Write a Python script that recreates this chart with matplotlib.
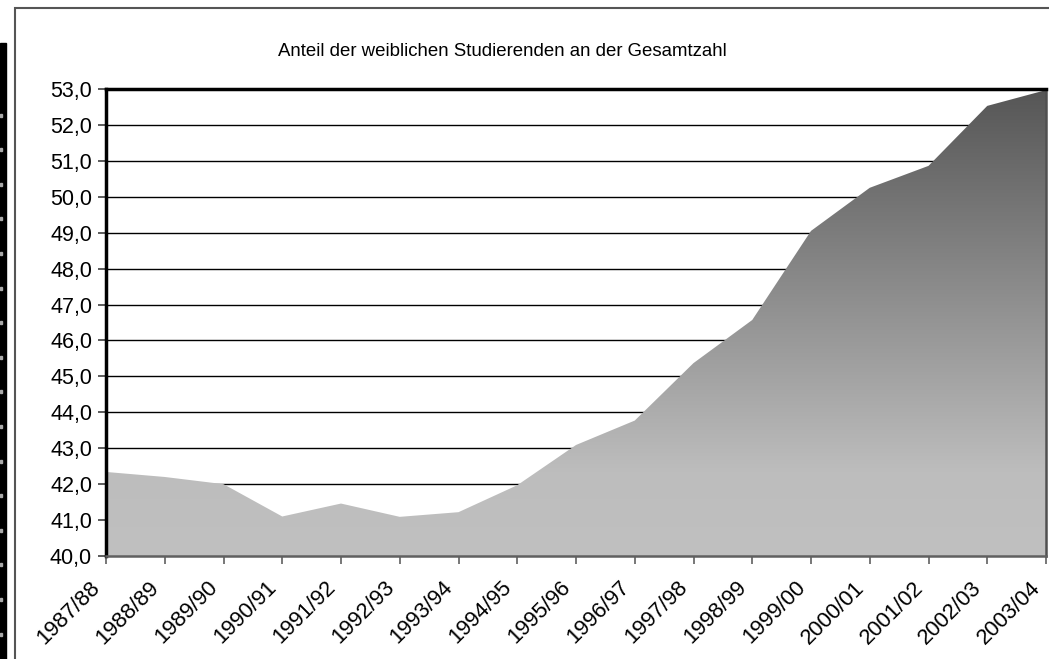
import numpy as np
import matplotlib
matplotlib.use("Agg")
import matplotlib.pyplot as plt
import matplotlib.transforms as mtransforms
from matplotlib.patches import Rectangle
from matplotlib.colors import LinearSegmentedColormap

plt.rcParams["font.family"] = ["Liberation Sans", "DejaVu Sans"]

# data
semesters = ["1987/88", "1988/89", "1989/90", "1990/91", "1991/92", "1992/93",
             "1993/94", "1994/95", "1995/96", "1996/97", "1997/98", "1998/99",
             "1999/00", "2000/01", "2001/02", "2002/03", "2003/04"]
share_female = [42.34, 42.2, 42.0, 41.1, 41.46, 41.09, 41.22, 41.97, 43.09,
                43.77, 45.37, 46.57, 49.05, 50.25, 50.86, 52.53, 52.97]
y_ticks = np.arange(40, 54, 1)
title = "Anteil der weiblichen Studierenden an der Gesamtzahl"

W, H = 1049, 659
fig = plt.figure(figsize=(W / 100, H / 100), dpi=100)
ax = fig.add_axes([106 / W, 1 - 556 / H, (1046 - 106) / W, (556 - 89) / H])

x = np.arange(len(semesters))
ax.set_xlim(0, len(semesters) - 1)
ax.set_ylim(40, 53)

# horizontal grid lines
for t in y_ticks[1:-1]:
    ax.axhline(t, color="black", lw=1.0, zorder=1)

# gradient filled area
poly = ax.fill_between(x, 40, share_female, color="none", lw=0, zorder=2)
cmap = LinearSegmentedColormap.from_list(
    "g", [(0.0, "#c0c0c0"), (0.18, "#bdbdbd"), (1.0, "#565656")])
grad = np.linspace(0, 1, 256).reshape(-1, 1)
img = ax.imshow(grad, cmap=cmap, origin="lower", aspect="auto",
                extent=[0, len(semesters) - 1, 40, 53], zorder=2)
img.set_clip_path(poly.get_paths()[0], transform=ax.transData)

ax.set_yticks(y_ticks)
ax.set_yticklabels([f"{v:.1f}".replace(".", ",") for v in y_ticks], fontsize=15.5)
ax.set_xticks(x)
ax.set_xticklabels([])
ax.tick_params(axis="y", length=6, width=1.2, color="#404040", pad=4)
ax.tick_params(axis="x", length=6, width=1.2, color="#606060")

# rotated category labels, drawn by hand so they can sit a little left of the tick
trans = ax.get_xaxis_transform() + mtransforms.ScaledTranslation(
    -16 / 100, -21 / 100, fig.dpi_scale_trans)
for xi, lab in zip(x, semesters):
    ax.text(xi, 0, lab, transform=trans, fontsize=15.8, rotation=45,
            ha="right", va="top", rotation_mode="anchor", clip_on=False)

ax.spines["left"].set_linewidth(2.5)
ax.spines["left"].set_color("black")
ax.spines["top"].set_linewidth(2.5)
ax.spines["top"].set_color("black")
ax.spines["right"].set_linewidth(1.8)
ax.spines["right"].set_color("#505050")
ax.spines["bottom"].set_linewidth(1.8)
ax.spines["bottom"].set_color("#606060")
for s in ax.spines.values():
    s.set_zorder(5)

fig.text(502 / W, 1 - 52 / H, title, fontsize=13.4, ha="center", va="center")

# outer chart frame and left black strip
fig.patches.append(Rectangle((15 / W, -0.05), 1.1, 1 - 8 / H + 0.05, fill=False,
                             ec="#555555", lw=1.5, transform=fig.transFigure))
fig.patches.append(Rectangle((0, 0), 6 / W, 1 - 43 / H, color="black",
                             transform=fig.transFigure))
for k in range(16):
    yy = 115 + k * 34.6
    fig.patches.append(Rectangle((0, 1 - (yy + 1.5) / H), 2 / W, 3 / H,
                                 color="#aaaaaa", transform=fig.transFigure))

fig.savefig("out.png", dpi=100)
